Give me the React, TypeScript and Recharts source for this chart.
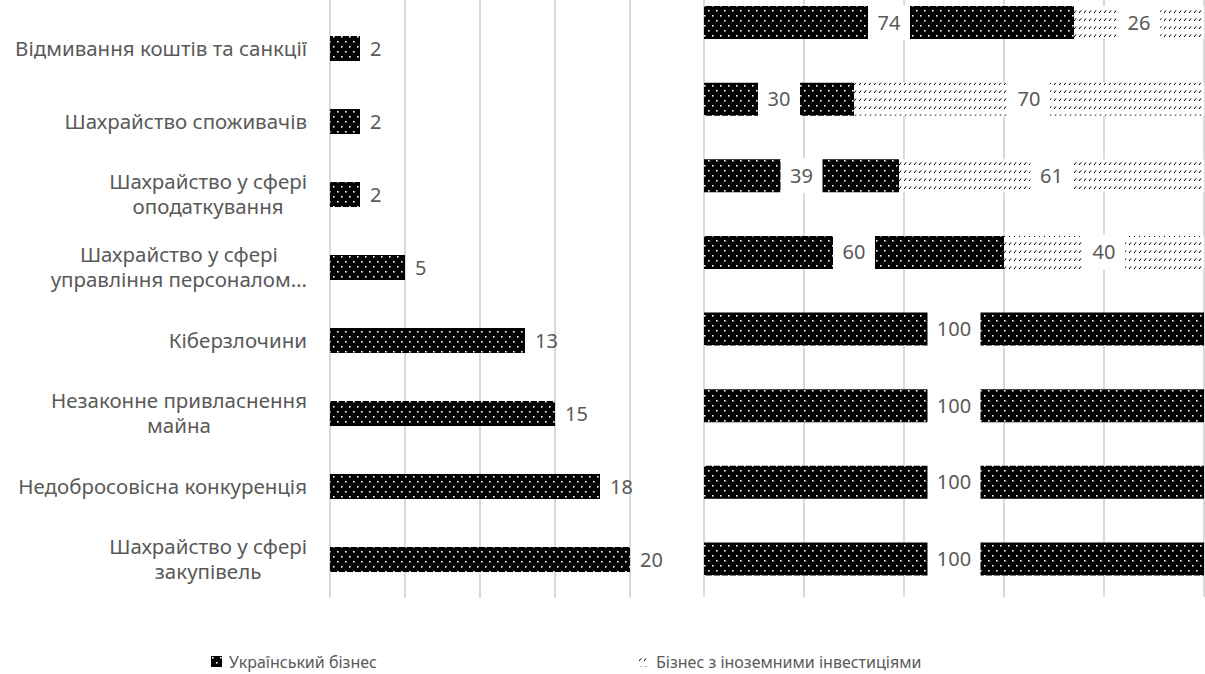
import { BarChart, Bar, XAxis, YAxis, CartesianGrid, LabelList } from 'recharts';

// Види шахрайства (зверху вниз, як на графіку)
const categories = [
  'Відмивання коштів та санкції',
  'Шахрайство споживачів',
  'Шахрайство у сфері\nоподаткування',
  'Шахрайство у сфері\nуправління персоналом…',
  'Кіберзлочини',
  'Незаконне привласнення\nмайна',
  'Недобросовісна конкуренція',
  'Шахрайство у сфері\nзакупівель',
];
const shareValues = [2, 2, 2, 5, 13, 15, 18, 20];
const ukrainianValues = [74, 30, 39, 60, 100, 100, 100, 100];
const foreignValues = [26, 70, 61, 40, 0, 0, 0, 0];
const leftTicks = [0, 5, 10, 15, 20];
const rightTicks = [0, 20, 40, 60, 80, 100];
const seriesNames = ['Український бізнес', 'Бізнес з іноземними інвестиціями'];

const FONT = '"Noto Sans", "Open Sans", sans-serif';
const TEXT = '#595959';
const GRID = '#d9d9d9';
const CAT_SIZE = 20.5;
const VALUE_SIZE = 20;

const leftData = categories.map((name, i) => ({ name, value: shareValues[i] }));
const rightData = categories.map((name, i) => ({ name, ukr: ukrainianValues[i], foreign: foreignValues[i] }));

let ctx: CanvasRenderingContext2D | null = null;
function textWidth(s: string, size: number) {
  if (!ctx) ctx = document.createElement('canvas').getContext('2d');
  if (!ctx) return s.length * size * 0.55;
  ctx.font = `${size}px "Noto Sans"`;
  return ctx.measureText(s).width;
}

function CategoryTick(props: any) {
  const { y, payload } = props;
  const lines: string[] = String(payload.value).split('\n');
  const right = 307;
  const w = Math.max(...lines.map(l => textWidth(l, CAT_SIZE)));
  const cx = right - w / 2;
  const lh = 25;
  const y0 = y - ((lines.length - 1) * lh) / 2;
  return (
    <text fill={TEXT} fontSize={CAT_SIZE} fontFamily={FONT} textAnchor="middle">
      {lines.map((l, i) => (
        <tspan key={i} x={cx} y={y0 + i * lh} dy="0.35em">{l}</tspan>
      ))}
    </text>
  );
}

function DotsPattern({ id }: { id: string }) {
  return (
    <pattern id={id} patternUnits="userSpaceOnUse" width={8} height={10}>
      <rect width={8} height={10} fill="#000" />
      <rect x={1} y={1} width={1.6} height={1.6} fill="#fff" />
      <rect x={5} y={6} width={1.6} height={1.6} fill="#fff" />
    </pattern>
  );
}

function HatchPattern({ id }: { id: string }) {
  return (
    <pattern id={id} patternUnits="userSpaceOnUse" width={5} height={8}>
      <rect width={5} height={8} fill="#fff" />
      <line x1={1.2} y1={5} x2={3} y2={2.4} stroke="#000" strokeWidth={1} />
    </pattern>
  );
}

// підпис у центрі сегмента на білій підкладці
function BoxLabel(props: any) {
  const { x, y, width, height, value } = props;
  if (!value) return null;
  const cx = x + width / 2;
  const cy = y + height / 2;
  const w = String(value).length * 11 + 20;
  return (
    <g>
      <rect x={cx - w / 2} y={y - 1} width={w} height={height + 2} fill="#fff" />
      <text x={cx} y={cy} dy="0.35em" textAnchor="middle" fill={TEXT} fontSize={VALUE_SIZE} fontFamily={FONT}>
        {value}
      </text>
    </g>
  );
}

export default function App() {
  return (
    <div style={{ position: 'absolute', left: 0, top: 0, width: 1205, height: 674, overflow: 'hidden', background: '#fff', fontFamily: FONT }}>
      <div style={{ position: 'absolute', left: 0, top: 0 }}>
        <BarChart
          width={700}
          height={598}
          data={leftData}
          layout="vertical"
          margin={{ top: 0, right: 70, bottom: 0, left: 0 }}
        >
          <defs>
            <DotsPattern id="dotsL" />
          </defs>
          <CartesianGrid horizontal={false} stroke={GRID} strokeWidth={2} />
          <XAxis type="number" domain={[0, 20]} ticks={leftTicks} hide />
          <YAxis
            type="category"
            dataKey="name"
            width={330}
            axisLine={false}
            tickLine={false}
            padding={{ top: 12, bottom: 2 }}
            tick={<CategoryTick />}
            interval={0}
          />
          <Bar dataKey="value" fill="url(#dotsL)" barSize={25} isAnimationActive={false}>
            <LabelList dataKey="value" position="right" offset={10} fill={TEXT} fontSize={VALUE_SIZE} fontFamily={FONT} />
          </Bar>
        </BarChart>
      </div>

      <div style={{ position: 'absolute', left: 703, top: -16 }}>
        <BarChart
          width={502}
          height={613}
          data={rightData}
          layout="vertical"
          margin={{ top: 0, right: 1, bottom: 0, left: 1 }}
        >
          <defs>
            <DotsPattern id="dotsR" />
            <HatchPattern id="hatchR" />
          </defs>
          <CartesianGrid horizontal={false} stroke={GRID} strokeWidth={2} />
          <XAxis type="number" domain={[0, 100]} ticks={rightTicks} hide />
          <YAxis type="category" dataKey="name" hide />
          <Bar dataKey="ukr" stackId="a" fill="url(#dotsR)" barSize={33} isAnimationActive={false}>
            <LabelList dataKey="ukr" content={<BoxLabel />} />
          </Bar>
          <Bar dataKey="foreign" stackId="a" fill="url(#hatchR)" barSize={33} isAnimationActive={false}>
            <LabelList dataKey="foreign" content={<BoxLabel />} />
          </Bar>
        </BarChart>
      </div>

      <div style={{ position: 'absolute', top: 651, left: 211, display: 'flex', alignItems: 'center', color: TEXT, fontSize: 16 }}>
        <svg width={12} height={12} style={{ marginRight: 6 }}>
          <DotsPattern id="dotsLeg" />
          <rect width={11} height={11} fill="url(#dotsLeg)" />
        </svg>
        <span>{seriesNames[0]}</span>
      </div>
      <div style={{ position: 'absolute', top: 651, left: 638, display: 'flex', alignItems: 'center', color: TEXT, fontSize: 16 }}>
        <svg width={12} height={12} style={{ marginRight: 6 }}>
          <HatchPattern id="hatchLeg" />
          <rect width={11} height={11} fill="url(#hatchLeg)" />
        </svg>
        <span>{seriesNames[1]}</span>
      </div>
    </div>
  );
}
